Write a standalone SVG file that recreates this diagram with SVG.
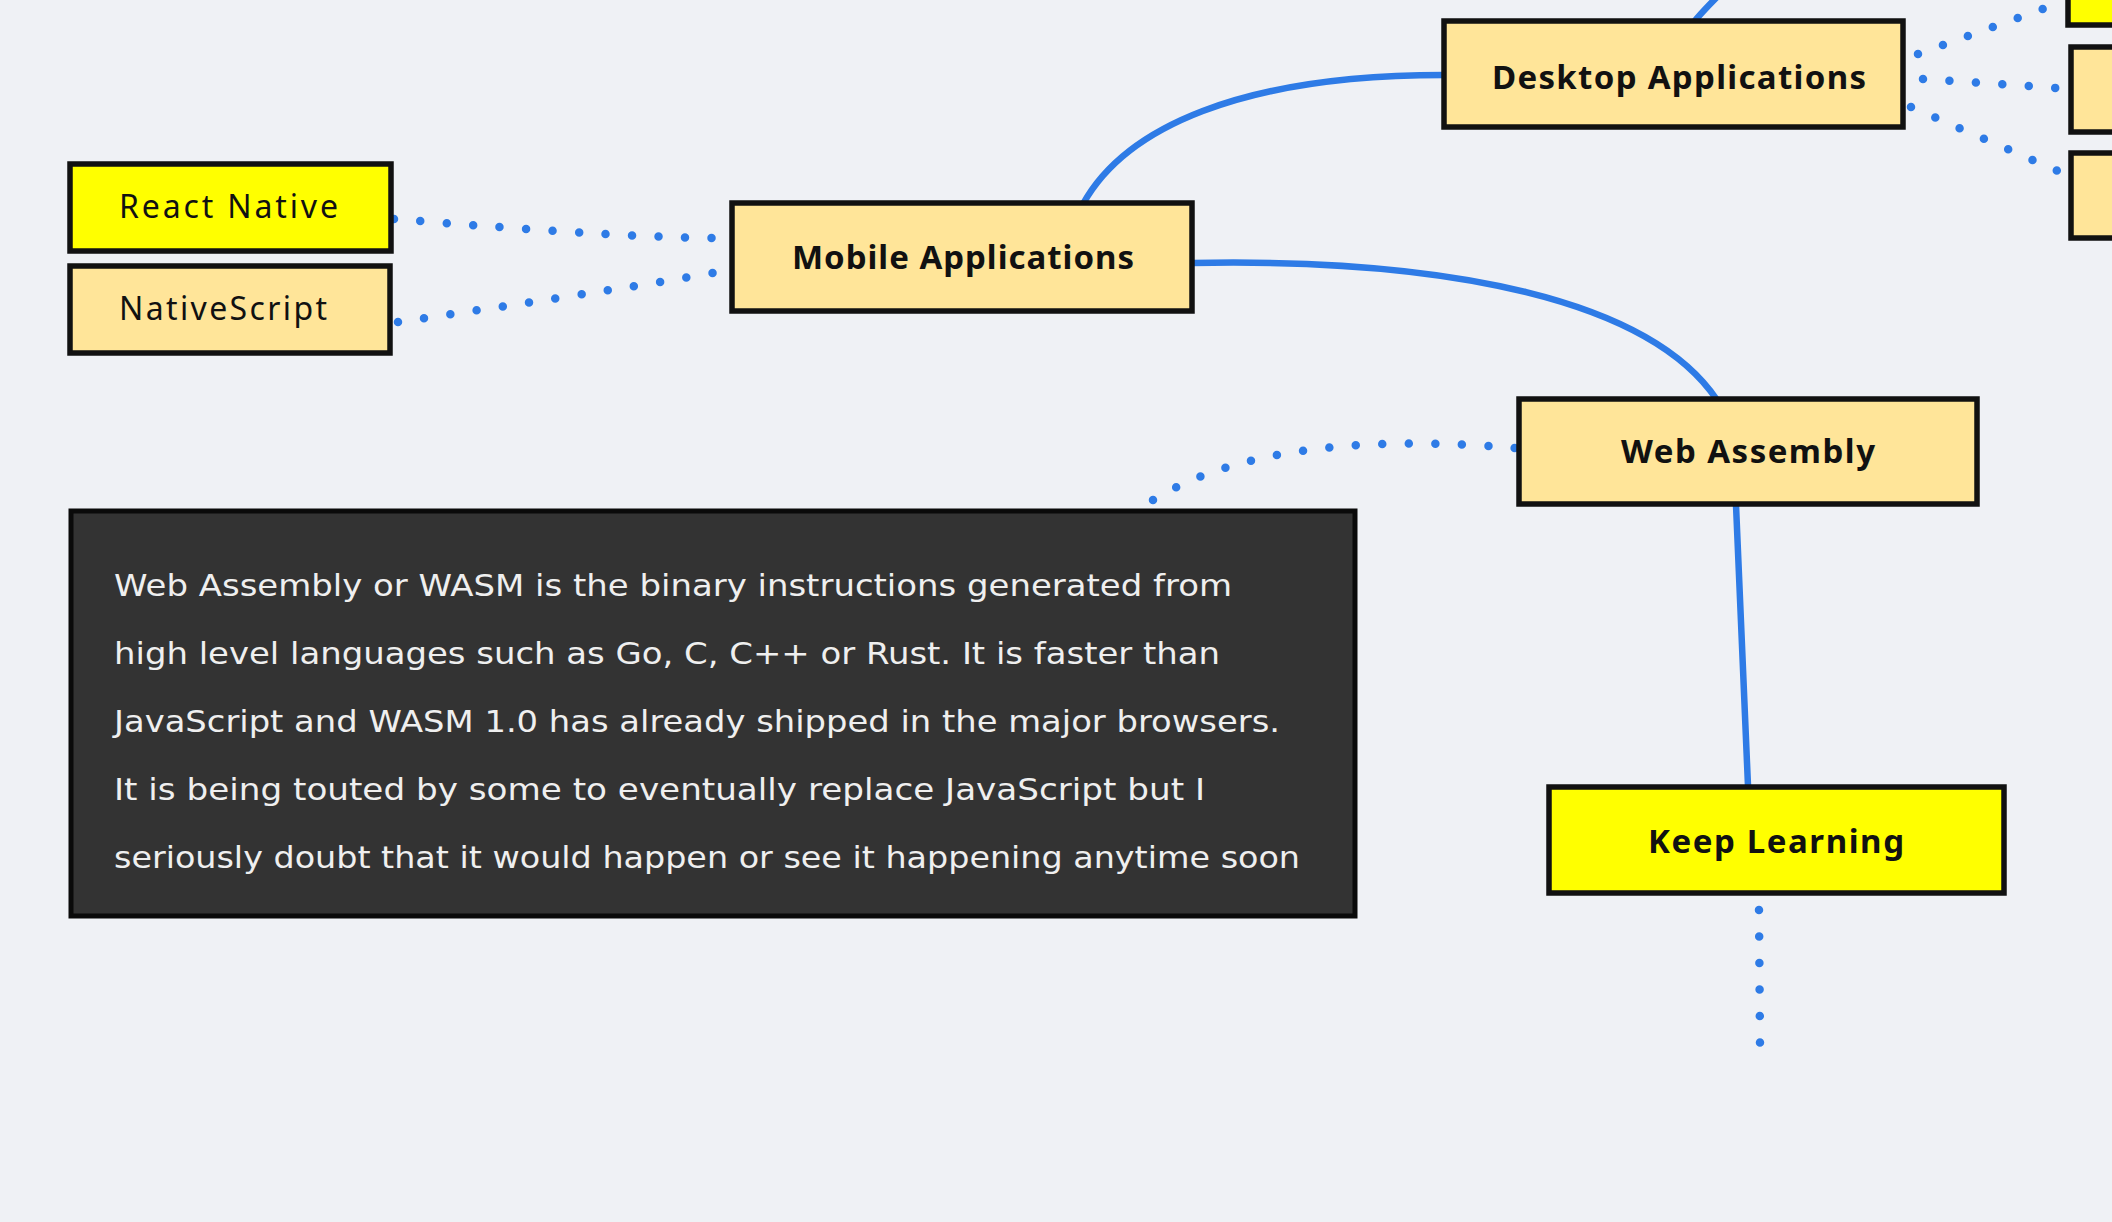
<svg xmlns="http://www.w3.org/2000/svg" width="2112" height="1222" viewBox="0 0 2112 1222">
<style>
.bg{fill:#eff1f5}
.box{stroke:#111;stroke-width:5.5;stroke-linejoin:miter}
.tan{fill:#ffe599}
.yel{fill:#ffff00}
.note{fill:#333333;stroke:#0a0a0a;stroke-width:5}
.solid{fill:none;stroke:#2e7be6;stroke-width:6.5;stroke-linecap:round}
.dot{fill:none;stroke:#2e7be6;stroke-width:8.5;stroke-linecap:round;stroke-dasharray:0 26.5}
.lbl{font-family:"Noto Sans","Liberation Sans",sans-serif;font-size:32px;fill:#111}
.b{font-weight:bold;font-size:33px}
.nt{font-family:"DejaVu Sans","Liberation Sans",sans-serif;font-size:30px;fill:#efefef}
</style>
<rect class="bg" x="0" y="0" width="2112" height="1222"/>
<g id="connectors">
<path class="solid" d="M1083,204 C1125,128 1240,75 1444,75"/>
<path class="solid" d="M1192,263 C1450,258 1650,300 1717,400"/>
<path class="solid" d="M1694,22 C1700,14 1708,6 1720,-6"/>
<path class="solid" d="M1736,505 L1748,786"/>
<path class="dot" d="M394,219 C480,226 640,238 714,238"/>
<path class="dot" d="M398,322 C480,310 660,283 718,272"/>
<path class="dot" d="M1153,500 C1250,440 1400,438 1515,448"/>
<path class="dot" d="M1918,54 L2065,1"/>
<path class="dot" d="M1923,79 L2057,88"/>
<path class="dot" d="M1911,107 L2058,171"/>
<path class="dot" d="M1759,910 L1760,1044"/>
</g>
<g id="node-react-native">
<rect class="box yel" x="70" y="164" width="321" height="87"/>
<text class="lbl" x="119" y="218" textLength="219" lengthAdjust="spacing">React Native</text>
</g>
<g id="node-nativescript">
<rect class="box tan" x="70" y="266" width="320" height="87"/>
<text class="lbl" x="119" y="320" textLength="208" lengthAdjust="spacing">NativeScript</text>
</g>
<g id="node-mobile">
<rect class="box tan" x="732" y="203" width="460" height="108"/>
<text class="lbl b" x="792" y="269" textLength="342" lengthAdjust="spacing">Mobile Applications</text>
</g>
<g id="node-desktop">
<rect class="box tan" x="1444" y="21" width="459" height="106"/>
<text class="lbl b" x="1492" y="89" textLength="374" lengthAdjust="spacing">Desktop Applications</text>
</g>
<g id="node-webasm">
<rect class="box tan" x="1519" y="399" width="458" height="105"/>
<text class="lbl b" x="1621" y="463" textLength="254" lengthAdjust="spacing">Web Assembly</text>
</g>
<g id="node-keep-learning">
<rect class="box yel" x="1549" y="787" width="455" height="106"/>
<text class="lbl b" x="1648" y="853" textLength="256" lengthAdjust="spacing">Keep Learning</text>
</g>
<g id="node-right-1">
<rect class="box yel" x="2068" y="-60" width="100" height="85"/>
</g>
<g id="node-right-2">
<rect class="box tan" x="2071" y="47" width="100" height="85"/>
</g>
<g id="node-right-3">
<rect class="box tan" x="2071" y="153" width="100" height="85"/>
</g>
<g id="node-note">
<rect class="note" x="71" y="511" width="1284" height="405"/>
<text class="nt" x="114" y="596" textLength="1118" lengthAdjust="spacingAndGlyphs">Web Assembly or WASM is the binary instructions generated from</text>
<text class="nt" x="114" y="664" textLength="1106" lengthAdjust="spacingAndGlyphs">high level languages such as Go, C, C++ or Rust. It is faster than</text>
<text class="nt" x="114" y="732" textLength="1166" lengthAdjust="spacingAndGlyphs">JavaScript and WASM 1.0 has already shipped in the major browsers.</text>
<text class="nt" x="114" y="800" textLength="1091" lengthAdjust="spacingAndGlyphs">It is being touted by some to eventually replace JavaScript but I</text>
<text class="nt" x="114" y="868" textLength="1186" lengthAdjust="spacingAndGlyphs">seriously doubt that it would happen or see it happening anytime soon</text>
</g>
</svg>
